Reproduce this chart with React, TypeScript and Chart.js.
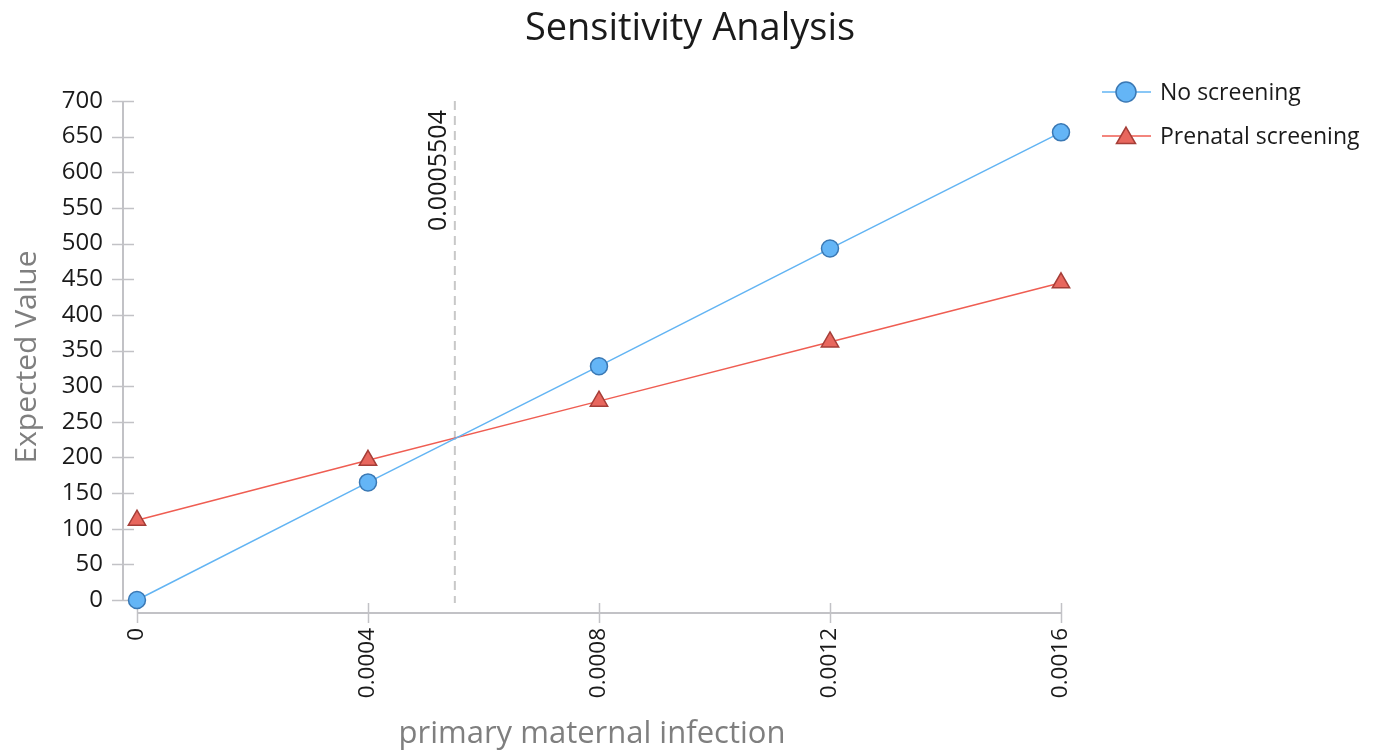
import React, { useEffect, useRef } from "react";
import { Chart, registerables } from "chart.js";

Chart.register(...registerables);

// ---- data ----
const xValues = [0, 0.0004, 0.0008, 0.0012, 0.0016];
const xTickLabels = ["0", "0.0004", "0.0008", "0.0012", "0.0016"];
const noScreening = [0, 165, 328, 493, 656];
const prenatalScreening = [112, 196, 279, 362, 445];
const yTickValues = [0, 50, 100, 150, 200, 250, 300, 350, 400, 450, 500, 550, 600, 650, 700];
const seriesNames = ["No screening", "Prenatal screening"];
const thresholdValue = 0.0005504;
const thresholdLabel = "0.0005504";
const chartTitle = "Sensitivity Analysis";
const xAxisTitle = "primary maternal infection";
const yAxisTitle = "Expected Value";

// axis ranges (with small offsets so axes sit apart, as in the reference)
const xMin = -0.0000242;
const xMax = 0.0016;
const yMin = -18.2;
const yMax = 700;

const FONT = "'Open Sans', 'Noto Sans', sans-serif";
const BLUE_LINE = "#62b4f3";
const BLUE_FILL = "#64b5f6";
const BLUE_BORDER = "#3a78b4";
const RED_LINE = "#ef5d52";
const RED_FILL = "#e8675e";
const RED_BORDER = "#a53e38";
const AXIS_COLOR = "#c2c2c6";

function drawMarker(ctx: CanvasRenderingContext2D, style: string, x: number, y: number, r: number, fill: string, stroke: string) {
  ctx.beginPath();
  if (style === "circle") {
    ctx.arc(x, y, r, 0, Math.PI * 2);
  } else {
    let rad = 0;
    ctx.moveTo(x + Math.sin(rad) * r, y - Math.cos(rad) * r);
    rad += (2 * Math.PI) / 3;
    ctx.lineTo(x + Math.sin(rad) * r, y - Math.cos(rad) * r);
    rad += (2 * Math.PI) / 3;
    ctx.lineTo(x + Math.sin(rad) * r, y - Math.cos(rad) * r);
    ctx.closePath();
  }
  ctx.fillStyle = fill;
  ctx.fill();
  ctx.lineWidth = 1.5;
  ctx.strokeStyle = stroke;
  ctx.stroke();
}

const overlayPlugin = {
  id: "overlay",
  beforeDatasetsDraw(chart: any) {
    const { ctx } = chart;
    const xs = chart.scales.x;
    const ys = chart.scales.y;
    ctx.save();
    // axes lines
    ctx.strokeStyle = AXIS_COLOR;
    ctx.lineWidth = 2;
    const axX = chart.chartArea.left;
    const axY = chart.chartArea.bottom;
    ctx.beginPath();
    ctx.moveTo(axX, ys.getPixelForValue(yTickValues[yTickValues.length - 1]));
    ctx.lineTo(axX, ys.getPixelForValue(yTickValues[0]));
    ctx.stroke();
    ctx.beginPath();
    ctx.moveTo(xs.getPixelForValue(xValues[0]), axY);
    ctx.lineTo(xs.getPixelForValue(xValues[xValues.length - 1]), axY);
    ctx.stroke();
    // tick marks crossing the axes
    ctx.lineWidth = 1.5;
    for (const v of yTickValues) {
      const py = Math.round(ys.getPixelForValue(v)) + 0.5;
      ctx.beginPath();
      ctx.moveTo(axX - 11, py);
      ctx.lineTo(axX + 11, py);
      ctx.stroke();
    }
    for (const v of xValues) {
      const px = Math.round(xs.getPixelForValue(v)) + 0.5;
      ctx.beginPath();
      ctx.moveTo(px, axY - 10);
      ctx.lineTo(px, axY + 10);
      ctx.stroke();
    }
    // threshold dashed line
    const tx = xs.getPixelForValue(thresholdValue);
    ctx.strokeStyle = "#c8c8c8";
    ctx.lineWidth = 2;
    ctx.setLineDash([9, 6]);
    ctx.beginPath();
    ctx.moveTo(tx, ys.getPixelForValue(yMax));
    ctx.lineTo(tx, axY - 10);
    ctx.stroke();
    ctx.setLineDash([]);
    // threshold label
    ctx.translate(tx - 9, ys.getPixelForValue(yMax) + 130);
    ctx.rotate(-Math.PI / 2);
    ctx.fillStyle = "#1a1a1a";
    ctx.font = `25px ${FONT}`;
    ctx.textAlign = "left";
    ctx.textBaseline = "alphabetic";
    ctx.fillText(thresholdLabel, 0, 0);
    ctx.restore();
  },
  afterDraw(chart: any) {
    const { ctx } = chart;
    ctx.save();
    // title
    ctx.fillStyle = "#1a1a1a";
    ctx.font = `38px ${FONT}`;
    ctx.textAlign = "center";
    ctx.textBaseline = "middle";
    ctx.fillText(chartTitle, chart.width / 2 + 2, 29);
    // legend
    const items = [
      { name: seriesNames[0], style: "circle", line: BLUE_LINE, fill: BLUE_FILL, border: BLUE_BORDER, r: 10 },
      { name: seriesNames[1], style: "triangle", line: RED_LINE, fill: RED_FILL, border: RED_BORDER, r: 11 },
    ];
    items.forEach((it, i) => {
      const y = 92 + i * 44;
      ctx.strokeStyle = it.line;
      ctx.lineWidth = 1.5;
      ctx.beginPath();
      ctx.moveTo(1102, y);
      ctx.lineTo(1151, y);
      ctx.stroke();
      drawMarker(ctx, it.style, 1126, it.style === "triangle" ? y + 2 : y, it.r, it.fill, it.border);
      ctx.fillStyle = "#1a1a1a";
      ctx.font = `23px ${FONT}`;
      ctx.textAlign = "left";
      ctx.textBaseline = "middle";
      ctx.fillText(it.name, 1160, y + 1);
    });
    ctx.restore();
  },
};

export default function App() {
  const canvasRef = useRef<HTMLCanvasElement | null>(null);

  useEffect(() => {
    if (!canvasRef.current) return;
    const chart = new Chart(canvasRef.current, {
      type: "line",
      data: {
        datasets: [
          {
            label: seriesNames[0],
            data: xValues.map((x, i) => ({ x, y: noScreening[i] })),
            borderColor: BLUE_LINE,
            borderWidth: 1.5,
            backgroundColor: BLUE_FILL,
            pointStyle: "circle",
            pointRadius: 8.5,
            pointBackgroundColor: BLUE_FILL,
            pointBorderColor: BLUE_BORDER,
            pointBorderWidth: 1.5,
            tension: 0,
            clip: false,
          },
          {
            label: seriesNames[1],
            data: xValues.map((x, i) => ({ x, y: prenatalScreening[i] })),
            borderColor: RED_LINE,
            borderWidth: 1.5,
            backgroundColor: RED_FILL,
            pointStyle: "triangle",
            pointRadius: 10,
            pointBackgroundColor: RED_FILL,
            pointBorderColor: RED_BORDER,
            pointBorderWidth: 1.5,
            tension: 0,
            clip: false,
          },
        ],
      },
      options: {
        animation: false,
        responsive: true,
        maintainAspectRatio: false,
        layout: { padding: { top: 101, right: 315, left: 0, bottom: 0 } },
        plugins: {
          legend: { display: false },
          title: { display: false },
          tooltip: { enabled: false },
        },
        scales: {
          x: {
            type: "linear",
            min: xMin,
            max: xMax,
            grid: { display: false },
            border: { display: false },
            afterBuildTicks: (scale: any) => {
              scale.ticks = xValues.map((v) => ({ value: v }));
            },
            afterFit: (scale: any) => {
              scale.height = 140;
            },
            ticks: {
              autoSkip: false,
              minRotation: 90,
              maxRotation: 90,
              padding: 7,
              color: "#1a1a1a",
              font: { family: FONT, size: 22.5 },
              callback: (value: any) => {
                const idx = xValues.findIndex((v) => Math.abs(v - Number(value)) < 1e-9);
                return idx >= 0 ? xTickLabels[idx] : "";
              },
            },
            title: {
              display: true,
              text: xAxisTitle,
              color: "#7f7f7f",
              font: { family: FONT, size: 31 },
              padding: { top: 0, bottom: 0 },
            },
          },
          y: {
            type: "linear",
            min: yMin,
            max: yMax,
            grid: { display: false },
            border: { display: false },
            afterBuildTicks: (scale: any) => {
              scale.ticks = yTickValues.map((v) => ({ value: v }));
            },
            afterFit: (scale: any) => {
              scale.width = 123;
            },
            ticks: {
              padding: 12,
              color: "#1a1a1a",
              font: { family: FONT, size: 24 },
              callback: (value: any) => String(value),
            },
            title: {
              display: true,
              text: yAxisTitle,
              color: "#7f7f7f",
              font: { family: FONT, size: 30 },
              padding: { top: 9, bottom: 0 },
            },
          },
        },
      },
      plugins: [overlayPlugin],
    });
    return () => chart.destroy();
  }, []);

  return (
    <div style={{ position: "fixed", left: 0, top: 0, width: 1376, height: 753, background: "#ffffff" }}>
      <canvas ref={canvasRef} />
    </div>
  );
}
